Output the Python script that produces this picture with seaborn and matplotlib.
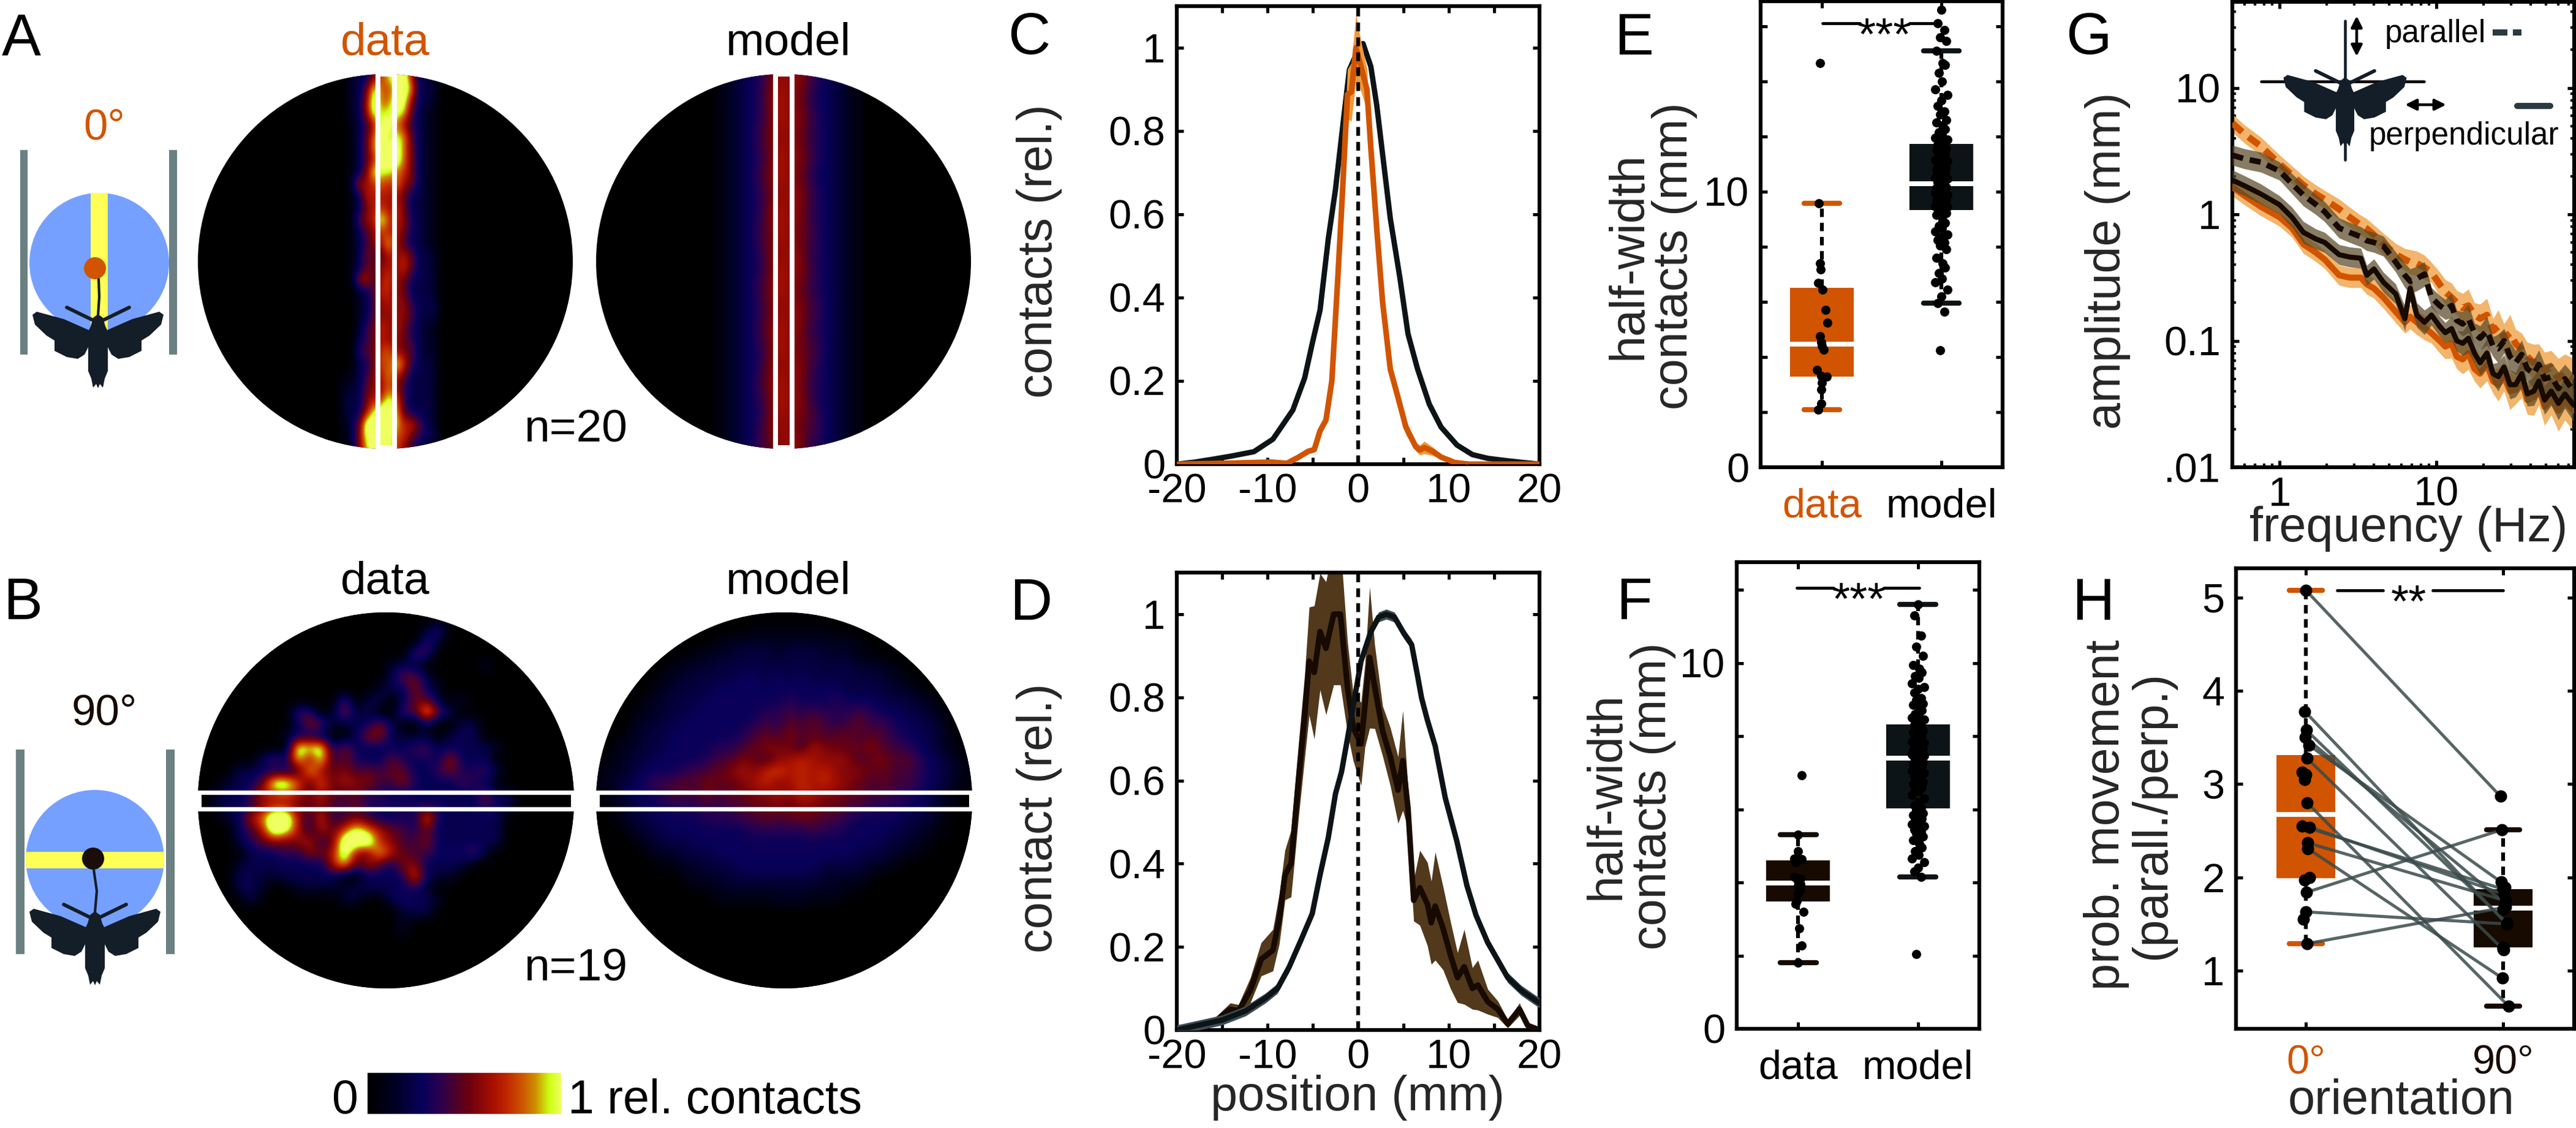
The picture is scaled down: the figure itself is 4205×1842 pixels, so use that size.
import numpy as np
import pandas as pd
import matplotlib
matplotlib.use('Agg')
import matplotlib.pyplot as plt
from matplotlib.colors import LinearSegmentedColormap
from matplotlib.patches import Circle, Polygon, Rectangle
from matplotlib.ticker import LogLocator, NullFormatter, FixedLocator, FixedFormatter
import seaborn as sns

# Valores
orange = '#D15400'
orange_light = '#F2B56B'
brown = '#170A00'
brown_band = '#52391C'
dark = '#0D1417'
model_band = '#3F4C55'

# C
c_model_x = [-20, -18, -16, -14.1, -11.5, -9.4, -7.2, -5.9, -5.06, -4.2, -3.3, -2.5, -1.6, -0.97, -0.1, 0.54, 1.4, 2.05, 2.7, 3.55, 4.6, 5.5, 6.56, 7.85, 9.15, 10.9, 12.6, 14.3, 16.5, 20]
c_model_y = [0, 0.005, 0.012, 0.019, 0.03, 0.06, 0.13, 0.207, 0.29, 0.37, 0.54, 0.66, 0.83, 0.947, 0.99, 1.01, 0.955, 0.862, 0.744, 0.59, 0.448, 0.313, 0.228, 0.144, 0.089, 0.046, 0.023, 0.014, 0.008, 0]
c_data_x = [-20, -15, -9.6, -7.85, -6.56, -5.5, -4.84, -4.2, -3.55, -2.9, -2.26, -1.83, -1.18, -0.75, -0.24, 0.32, 0.97, 1.4, 2.05, 2.7, 3.55, 4.4, 5.27, 6.35, 6.8, 7.3, 8.3, 9.15, 10.66, 12.2, 20]
c_data_y = [0, 0.002, 0.005, 0.002, 0.017, 0.031, 0.035, 0.08, 0.106, 0.2, 0.44, 0.61, 0.888, 0.894, 1.0, 0.955, 0.9, 0.76, 0.566, 0.389, 0.228, 0.16, 0.089, 0.042, 0.034, 0.04, 0.03, 0.017, 0.004, 0, 0]
c_data_err = [0, 0, 0.001, 0.001, 0.004, 0.006, 0.006, 0.008, 0.01, 0.01, 0.01, 0.01, 0.06, 0.07, 0.08, 0.06, 0.05, 0.02, 0.01, 0.01, 0.015, 0.02, 0.018, 0.01, 0.012, 0.015, 0.01, 0.005, 0.002, 0, 0]

# D
d_model_x = [-20, -15, -12.4, -10.2, -8.9, -7.6, -6.35, -5.06, -4.2, -3.3, -2.5, -1.83, -1.18, -0.54, 0.32, 1.4, 2.26, 3.1, 4, 5.06, 5.9, 6.56, 7, 7.64, 8.5, 9.6, 10.9, 12, 13, 14.3, 16.5, 18, 20]
d_model_y = [0, 0.024, 0.046, 0.077, 0.1, 0.152, 0.214, 0.28, 0.373, 0.462, 0.568, 0.621, 0.7, 0.78, 0.887, 0.958, 0.993, 1.0, 0.993, 0.953, 0.927, 0.851, 0.798, 0.745, 0.683, 0.559, 0.453, 0.347, 0.276, 0.21, 0.126, 0.095, 0.065]
d_data_x = [-20, -17.5, -15.8, -14.1, -13.2, -11.9, -10.7, -9.4, -8.7, -8.07, -7.4, -6.56, -5.9, -5.4, -4.84, -4.2, -3.55, -2.7, -1.96, -1.18, -0.54, 0.32, 0.75, 1.27, 1.83, 2.7, 3.55, 4.4, 4.93, 5.5, 6.13, 6.8, 7.64, 8.07, 8.5, 9.36, 10.2, 10.96, 11.7, 12.6, 13.2, 14.3, 15.4, 16.5, 17.8, 18.7, 20]
d_data_y = [0, 0.015, 0.02, 0.05, 0.046, 0.095, 0.17, 0.192, 0.267, 0.373, 0.4, 0.604, 0.754, 0.887, 0.86, 0.958, 0.918, 1.0, 1.0, 0.825, 0.727, 0.688, 0.78, 0.896, 0.825, 0.719, 0.657, 0.577, 0.648, 0.533, 0.312, 0.342, 0.303, 0.258, 0.298, 0.245, 0.179, 0.126, 0.152, 0.1, 0.108, 0.068, 0.05, 0.015, 0.05, 0.011, 0]
d_data_err = [0, 0.005, 0.01, 0.015, 0.015, 0.03, 0.04, 0.05, 0.06, 0.06, 0.08, 0.09, 0.1, 0.13, 0.16, 0.14, 0.16, 0.17, 0.17, 0.11, 0.08, 0.1, 0.1, 0.17, 0.1, 0.06, 0.07, 0.08, 0.12, 0.05, 0.05, 0.09, 0.1, 0.1, 0.13, 0.1, 0.08, 0.06, 0.09, 0.05, 0.06, 0.03, 0.02, 0.01, 0.015, 0.005, 0]

# E
e_data = [14.66, 9.58, 7.40, 7.17, 6.68, 6.45, 5.70, 5.23, 4.75, 4.53, 4.40, 4.26, 3.53, 3.31, 3.29, 3.25, 3.06, 2.81, 2.32, 2.09]
e_data_off = [-0.015, -0.025, -0.017, -0.012, -0.03, 0.007, 0.03, 0.044, -0.015, -0.005, 0.002, 0.017, -0.042, -0.005, 0.039, 0.007, 0.002, -0.005, -0.005, -0.03]
e_model = [16.6, 16.1, 15.85, 15.6, 15.45, 15.1, 14.65, 14.6, 14.3, 14.0, 13.7, 13.5, 13.3, 13.1, 12.9, 12.8, 12.6, 12.5, 12.4, 12.25, 12.15, 12.05, 11.95, 11.88, 11.8,
           11.7, 11.65, 11.6, 11.55, 11.5, 11.42, 11.35, 11.3, 11.22, 11.15, 11.1, 11.05, 11.0, 10.95, 10.9, 10.85, 10.8, 10.72, 10.65, 10.6, 10.55, 10.5, 10.45, 10.38, 10.32,
           10.24, 10.2, 10.15, 10.12, 10.08, 10.04, 10.0, 9.96, 9.92, 9.88, 9.84, 9.8, 9.76, 9.72, 9.68, 9.65, 9.62, 9.58, 9.54, 9.5, 9.47, 9.44, 9.41, 9.38, 9.35,
           9.3, 9.22, 9.15, 8.95, 8.85, 8.75, 8.65, 8.55, 8.45, 8.35, 8.25, 8.15, 8.05, 7.9, 7.6, 7.4, 7.25, 7.05, 6.85, 6.7, 6.45, 6.2, 5.96, 5.65, 4.25]
model_off = [0.0, -0.03, 0.025, -0.012, 0.04, -0.04, 0.012, 0.03, -0.022, 0.005, -0.05, 0.05]

# F
f_data = [6.94, 5.31, 4.86, 4.66, 4.64, 4.6, 4.55, 4.15, 4.10, 4.03, 3.95, 3.9, 3.8, 3.7, 3.5, 3.42, 3.2, 2.75, 2.27, 1.81]
f_data_off = [0.03, 0.0, 0.0, -0.03, 0.03, 0.0, -0.02, -0.03, 0.02, 0.0, 0.02, 0.0, 0.02, 0.0, -0.01, -0.02, 0.045, 0.01, 0.03, 0.0]
f_model = [11.6, 11.3, 10.75, 10.45, 10.2, 9.95, 9.85, 9.75, 9.65, 9.6, 9.45, 9.35, 9.3, 9.2, 9.05, 9.0, 8.9, 8.85, 8.75, 8.7, 8.6, 8.55, 8.5, 8.45, 8.38,
           8.3, 8.25, 8.2, 8.15, 8.1, 8.05, 8.0, 7.95, 7.9, 7.85, 7.82, 7.8, 7.75, 7.72, 7.7, 7.65, 7.62, 7.6, 7.58, 7.55, 7.52, 7.5, 7.47, 7.45, 7.42,
           7.38, 7.35, 7.3, 7.25, 7.22, 7.18, 7.15, 7.1, 7.05, 7.0, 6.95, 6.9, 6.85, 6.8, 6.75, 6.7, 6.65, 6.6, 6.55, 6.5, 6.4, 6.3, 6.2, 6.12, 6.05,
           5.98, 5.9, 5.85, 5.8, 5.75, 5.7, 5.65, 5.6, 5.55, 5.5, 5.45, 5.4, 5.35, 5.25, 5.15, 5.05, 4.95, 4.85, 4.75, 4.65, 4.55, 4.4, 4.3, 4.15, 2.05]

# G
freq = [0.5, 0.6, 0.76, 1, 1.2, 1.42, 1.7, 1.94, 2.4, 2.8, 3.3, 3.6, 4, 4.6, 5.5, 6.3, 6.8, 7.5, 8.4, 9.3, 10.5, 11.4, 12.5, 13.5, 14.7, 16, 17.5, 19, 21, 23, 24.8, 27, 29.5, 32, 35, 38, 41.8, 45, 49, 54, 60, 66, 75]
par_0 = [5.27, 4.3, 3.46, 2.5, 2.05, 1.7, 1.45, 1.31, 1.1, 0.95, 0.82, 0.77, 0.687, 0.58, 0.482, 0.44, 0.42, 0.41, 0.38, 0.348, 0.28, 0.244, 0.22, 0.2, 0.182, 0.19, 0.16, 0.15, 0.16, 0.12, 0.13, 0.105, 0.115, 0.095, 0.085, 0.075, 0.067, 0.07, 0.058, 0.062, 0.05, 0.056, 0.05]
par_90 = [2.94, 2.75, 2.59, 2.2, 1.75, 1.42, 1.2, 1.05, 0.78, 0.72, 0.665, 0.62, 0.6, 0.56, 0.42, 0.33, 0.296, 0.31, 0.337, 0.22, 0.19, 0.177, 0.19, 0.145, 0.136, 0.15, 0.115, 0.105, 0.12, 0.09, 0.0866, 0.1, 0.075, 0.067, 0.078, 0.06, 0.055, 0.065, 0.05, 0.052, 0.042, 0.05, 0.04]
perp_90 = [1.87, 1.68, 1.45, 1.19, 0.95, 0.72, 0.64, 0.6, 0.48, 0.46, 0.45, 0.33, 0.37, 0.29, 0.235, 0.15, 0.26, 0.16, 0.14, 0.16, 0.13, 0.116, 0.125, 0.1, 0.0955, 0.105, 0.08, 0.067, 0.08, 0.055, 0.052, 0.062, 0.045, 0.045, 0.055, 0.038, 0.04, 0.048, 0.034, 0.04, 0.032, 0.038, 0.031]
perp_0 = [1.65, 1.4, 1.15, 0.95, 0.78, 0.58, 0.5, 0.44, 0.33, 0.316, 0.316, 0.28, 0.26, 0.22, 0.17, 0.14, 0.155, 0.14, 0.127, 0.115, 0.1, 0.09, 0.095, 0.075, 0.0713, 0.08, 0.06, 0.055, 0.065, 0.048, 0.045, 0.052, 0.04, 0.041, 0.048, 0.034, 0.036, 0.042, 0.03, 0.035, 0.028, 0.033, 0.028]
ratio_0 = [1.18, 1.18, 1.18, 1.18, 1.18, 1.18, 1.18, 1.18, 1.2, 1.2, 1.2, 1.2, 1.2, 1.22, 1.22, 1.22, 1.25, 1.25, 1.25, 1.2, 1.25, 1.25, 1.3, 1.25, 1.3, 1.35, 1.25, 1.3, 1.35, 1.25, 1.35, 1.3, 1.4, 1.3, 1.35, 1.3, 1.4, 1.35, 1.4, 1.35, 1.45, 1.4, 1.45]
ratio_90 = [1.2, 1.2, 1.2, 1.18, 1.2, 1.22, 1.2, 1.2, 1.2, 1.2, 1.2, 1.2, 1.2, 1.2, 1.2, 1.25, 1.25, 1.25, 1.25, 1.2, 1.2, 1.2, 1.25, 1.2, 1.25, 1.3, 1.2, 1.25, 1.3, 1.2, 1.3, 1.25, 1.3, 1.25, 1.3, 1.25, 1.3, 1.3, 1.3, 1.3, 1.35, 1.3, 1.35]

# H
h_0 = [5.08, 3.78, 3.58, 3.50, 3.42, 3.28, 3.13, 3.10, 3.05, 2.80, 2.55, 2.54, 2.37, 2.31, 2.00, 1.97, 1.84, 1.63, 1.55, 1.29]
h_90 = [2.87, 1.50, 1.51, 1.72, 1.95, 1.22, 1.88, 1.89, 1.66, 0.62, 1.87, 1.82, 1.75, 0.92, 1.25, 1.24, 2.51, 1.50, 1.23, 1.68]
h_paired = [1, 1, 1, 1, 1, 1, 0, 0, 0, 1, 1, 1, 1, 1, 0, 0, 1, 1, 0, 1]
h_0_off = [0, -0.005, 0.002, -0.002, 0.014, 0.005, -0.02, 0, -0.005, 0.007, -0.018, 0.018, 0.009, 0.009, 0.018, -0.005, 0.004, 0, -0.012, 0.007]
h_90_off = [-0.014, 0.018, 0.02, 0.01, -0.01, 0.004, 0, 0.01, 0, 0.027, 0.005, 0.005, 0.012, -0.004, 0, 0, -0.007, 0.02, 0, 0.012]

# Mapas de contato, um digito hexadecimal por celula (0 a f)
a_data_rows = [
    '0002337adff83320', '000236ebaefc3320', '000238fbbfe83320', '000238fcded63210',
    '0001359efb853210', '000136bfcdc63210', '000136ceefb73210', '0001369fffb73210',
    '000137eddba73210', '000298ab9c873210', '0001399998733210', '0001379a8a733210',
    '0001689fa9843210', '0001368a99743210', '00013589d8633210', '0001376698973320',
    '0001367898a63320', '00018a59a8743320', '0000236a98733320', '0000236898853330',
    '0000236888863330', '0000257a89743210', '0000357988753220', '0000567ab8763220',
    '0000347baea53320', '00113589c9733320', '00223688b8533320', '0023379aeb533320',
    '002338dffc633320', '00136ffffd9a6320', '00127efffaa75430', '00027cffea853210',
]
a_model_rows = [
    '0123457999754321', '0123458a98644321', '0123457a99754321', '0123468998654321',
    '0123457a99754321', '0123468a98644321', '0123457999754321', '0123458a99654321',
    '0123467a98754321', '0123458999654321', '0123457a99754321', '0123468a98654321',
    '0123457999764321', '0123468a99654321', '0123457a98764321', '0123458999754321',
    '0123468a99654321', '0123457a99754321', '0123458998764321', '0123467999654321',
]
b_data_rows = [
    '', '00000000000000000002500000000000', '00000000000000000005200000000000',
    '00000000000000000065000000000000', '00000000000000002320000020000000',
    '00000000000000003663', '000000000000000233732', '00000000000060330366202',
    '0000000055027230065d63', '000000003762233730030033', '000000023320037732220333',
    '00000000ece373333355333332', '00000363d6d46433643438333', '000333334c7675656633564453',
    '002336eea5a68775574333543', '023358898686564433333333633', '023347886675564444444333533',
    '00238aff84945653343b333333', '000358fd84869da86546333333', '000346767846fef87557333333',
    '000033354768e76c865534362', '000233333338c5853773333', '000332233333003334a322',
    '00033200222223333342', '000030000000220034332', '00000000000000000233',
    '000000000000000002', '000000000000000001', '', '', '', '',
]
b_model_rows = [
    '', '00000000000001111111000000000000', '00000000001222222222221000000000',
    '00000000122233323332221100000000', '00000012223333333333332221000000',
    '00000122333344343433333322100000', '00000223334444444444433332210000',
    '00002233344444445444544433322000', '00012233444444556565556544332100',
    '00022334444445657676567564433200', '00123344444456768676776765443210',
    '01223344445567887698777866543210', '01233444456687689a98986786754321',
    '12234445667898ab9a9a888776654321', '12345667687789a89a9a987676654321',
    '12344566676778898a98877665543210', '01234455565667787887766555443210',
    '01233444455566767776654444332100', '00123344444445555565544443322100',
    '00012333444444444444444433221000', '00001223334444444444443332210000',
    '00000112233344444443333221000000', '00000001222333333332222100000000',
    '00000000112222222222211000000000', '00000000001111122211100000000000',
    '', '', '', '', '', '', '',
]

W, H = 4205, 1842
sns.set_style('ticks')
plt.rcParams['font.family'] = ['Liberation Sans', 'DejaVu Sans']
plt.rcParams.update({
    'axes.linewidth': 1.5, 'axes.edgecolor': 'black', 'text.color': 'black',
    'xtick.direction': 'in', 'ytick.direction': 'in',
    'xtick.top': True, 'ytick.right': True,
    'xtick.major.size': 2.6, 'ytick.major.size': 2.6,
    'xtick.major.width': 1.2, 'ytick.major.width': 1.2,
    'xtick.minor.size': 1.4, 'ytick.minor.size': 1.4,
    'xtick.minor.width': 1.0, 'ytick.minor.width': 1.0,
    'xtick.color': 'black', 'ytick.color': 'black',
    'xtick.labelsize': 16, 'ytick.labelsize': 16,
    'xtick.major.pad': 3.5, 'ytick.major.pad': 4.5,
})

fig = plt.figure(figsize=(W / 300, H / 300), dpi=300, facecolor='white')


def px_axes(l, r, t, b):
    return fig.add_axes([l / W, 1 - b / H, (r - l) / W, (b - t) / H])


# camada por cima de tudo, em pixels da figura
ov = fig.add_axes([0, 0, 1, 1], zorder=10)
ov.patch.set_alpha(0)
ov.axis('off')

cmap = LinearSegmentedColormap.from_list('contacts', [
    (0, '#000000'), (0.12, '#00001c'), (0.28, '#08005a'), (0.37, '#2a0050'), (0.52, '#6a0010'),
    (0.65, '#a81000'), (0.72, '#c02800'), (0.80, '#cc5500'), (0.87, '#cf9000'),
    (0.94, '#ccff10'), (1, '#f0ff60')])


def rows_to_array(rows, ncol):
    return np.array([[int(c, 16) for c in r.ljust(ncol, '0')] for r in rows], dtype=float)


def heat(rows, ncol, cx, cy, r, extent, vmax=15):
    disc = Circle((cx, cy), r, fc='black', ec='none')
    ov.add_patch(disc)
    im = ov.imshow(rows_to_array(rows, ncol), cmap=cmap, vmin=0, vmax=vmax, aspect='auto',
                   extent=extent, interpolation='bicubic', zorder=2)
    im.set_clip_path(disc)


heat(a_data_rows, 16, 629, 427, 306, (529, 729, 740, 115), vmax=13.5)
heat(a_model_rows, 16, 1279, 427, 306, (1149, 1409, 740, 115), vmax=15)
heat(b_data_rows, 32, 630, 1307, 307, (323, 937, 1614, 1000), vmax=12)
heat(b_model_rows, 32, 1280, 1307, 307, (973, 1587, 1614, 1000), vmax=14)

for x0 in [617, 1266]:
    ov.add_patch(Rectangle((x0, 121), 27, 610, fill=False, ec='white', lw=1.9, zorder=3))
for x0 in [325, 975]:
    ov.add_patch(Rectangle((x0, 1293.5), 610, 27, fill=False, ec='white', lw=1.7, zorder=3))

ov.imshow(np.linspace(0, 1, 256)[None, :], cmap=cmap, aspect='auto', extent=(600, 916, 1819, 1752), zorder=2)

moth_half = [(0, -2), (8, 4), (12, 18), (15, 24), (56, 6), (100, -6), (107, -1), (103, 15), (84, 33), (71, 41), (71, 58),
             (51, 68), (33, 71), (22, 64), (16, 52), (16, 91), (11, 103), (8, 118), (3, 112), (0, 119)]
moth_color = '#141E28'


def moth(x, y, s=1.0):
    pts = [(x + s * a, y + s * b) for a, b in moth_half] + [(x - s * a, y + s * b) for a, b in moth_half[::-1]]
    ov.add_patch(Polygon(pts, fc=moth_color, ec='none', zorder=5))
    for sg in (-1, 1):
        ov.plot([x + sg * s * 8, x + sg * s * 51], [y + s * 8, y - s * 13], color=moth_color, lw=1.4,
                solid_capstyle='round', zorder=5)


# esquemas A e B
ov.add_patch(Circle((162, 429), 114, fc='#76A0FF', ec='none', zorder=1))
strip = Rectangle((148, 315), 28, 230, fc='#FFFF55', ec='none', zorder=2)
ov.add_patch(strip)
ov.add_patch(Circle((155, 438), 18, fc=orange, ec='none', zorder=4))
ov.plot([160, 162, 161], [515, 485, 456], color=moth_color, lw=1.0, zorder=4)
moth(160, 515)
ov.add_patch(Rectangle((33, 245), 12, 334, fc='#6B8082', ec='none', zorder=1))
ov.add_patch(Rectangle((276, 245), 13, 334, fc='#6B8082', ec='none', zorder=1))

ov.add_patch(Circle((155, 1403), 113, fc='#76A0FF', ec='none', zorder=1))
band = Rectangle((42, 1391), 226, 27, fc='#FFFF55', ec='none', zorder=2)
ov.add_patch(band)
band.set_clip_path(Circle((155, 1403), 113, transform=ov.transData))
ov.add_patch(Circle((152, 1402), 18, fc='#1B0D08', ec='none', zorder=4))
ov.plot([155, 158, 153], [1490, 1455, 1420], color=moth_color, lw=1.0, zorder=4)
moth(155, 1490)
ov.add_patch(Rectangle((26, 1224), 14, 334, fc='#6B8082', ec='none', zorder=1))
ov.add_patch(Rectangle((271, 1224), 14, 334, fc='#6B8082', ec='none', zorder=1))

# textos soltos
for s, x, y in [('A', 3, 90), ('B', 5, 1011), ('C', 1645, 88), ('D', 1648, 1012),
                ('E', 2635, 89), ('F', 2638, 1011), ('G', 3372, 88), ('H', 3382, 1012)]:
    ov.text(x, y, s, fontsize=23, ha='left', va='baseline')
ov.text(629, 90, 'data', color=orange, fontsize=18, ha='center', va='baseline')
ov.text(1287, 90, 'model', fontsize=18, ha='center', va='baseline')
ov.text(629, 970, 'data', fontsize=18, ha='center', va='baseline')
ov.text(1287, 970, 'model', fontsize=18, ha='center', va='baseline')
ov.text(170, 227, '0°', color=orange, fontsize=17, ha='center', va='baseline')
ov.text(170, 1184, '90°', color=brown, fontsize=17, ha='center', va='baseline')
ov.text(856, 721, 'n=20', fontsize=18, ha='left', va='baseline')
ov.text(856, 1601, 'n=19', fontsize=18, ha='left', va='baseline')
ov.text(585, 1818, '0', fontsize=18.5, ha='right', va='baseline')
ov.text(927, 1818, '1 rel. contacts', fontsize=18.5, ha='left', va='baseline')

# legenda dentro do G
ov.plot([3828, 3828], [34, 261], color=moth_color, lw=1.1, zorder=4)
ov.plot([3691, 3957], [133, 133], color='black', lw=1.1, zorder=4)
moth(3828, 128, 0.94)
arrow = dict(arrowstyle='<|-|>', color='black', lw=1.1, mutation_scale=9, shrinkA=0, shrinkB=0)
ov.annotate('', xy=(3847, 26), xytext=(3847, 92), arrowprops=arrow, zorder=6)
ov.annotate('', xy=(3926, 171), xytext=(3993, 171), arrowprops=arrow, zorder=6)
ov.text(3893, 69, 'parallel', fontsize=12.3, ha='left', va='baseline')
ov.text(3867, 236, 'perpendicular', fontsize=12.3, ha='left', va='baseline')
ov.plot([4069, 4116], [53, 53], color='#2B3A40', lw=2.4, ls=(0, (2.4, 0.9)), zorder=6)
ov.plot([4109, 4163], [173, 173], color='#2B3A40', lw=2.4, solid_capstyle='round', zorder=6)


def ylabel_px(ax, text, x, y, size=19):
    ax.set_ylabel(text, fontsize=size, va='center', ha='center', linespacing=1.0)
    ax.yaxis.set_label_coords(x, y, transform=ov.transData)


def xlabel_px(ax, text, x, y, size=19):
    ax.set_xlabel(text, fontsize=size, va='baseline', ha='center')
    ax.xaxis.set_label_coords(x, y, transform=ov.transData)


def zero_line(ax):
    ax.axvline(0, color='black', lw=1.5, ls=(0, (2.3, 1.6)), zorder=6)


def profile_axes(ax):
    ax.set_xlim(-20, 20)
    ax.set_ylim(0, 1.1)
    ax.set_xticks(np.arange(-20, 21, 5), ['-20', '', '-10', '', '0', '', '10', '', '20'])
    ax.set_yticks([0, 0.2, 0.4, 0.6, 0.8, 1], ['0', '0.2', '0.4', '0.6', '0.8', '1'])


# C
ax_c = px_axes(1921, 2513, 10, 758)
sns.lineplot(x=c_model_x, y=c_model_y, ax=ax_c, color=dark, lw=2.1, estimator=None, sort=False)
c_y, c_e = np.array(c_data_y), np.array(c_data_err)
ax_c.fill_between(c_data_x, c_y - c_e, c_y + c_e, color='#EE9A3C', lw=0, zorder=3)
sns.lineplot(x=c_data_x, y=c_data_y, ax=ax_c, color=orange, lw=2.2, estimator=None, sort=False, zorder=4)
zero_line(ax_c)
profile_axes(ax_c)
ylabel_px(ax_c, 'contacts (rel.)', 1697, 410)

# D
ax_d = px_axes(1921, 2513, 935, 1682)
d_y, d_e = np.array(d_data_y), np.array(d_data_err)
ax_d.fill_between(d_data_x, d_y - d_e, d_y + d_e, color=brown_band, lw=0, zorder=2)
sns.lineplot(x=d_data_x, y=d_data_y, ax=ax_d, color=brown, lw=2.2, estimator=None, sort=False, zorder=3)
m_y = np.array(d_model_y)
ax_d.fill_between(d_model_x, m_y - 0.012, m_y + 0.012, color=model_band, lw=0, zorder=3)
sns.lineplot(x=d_model_x, y=d_model_y, ax=ax_d, color=dark, lw=2.1, estimator=None, sort=False, zorder=4)
zero_line(ax_d)
profile_axes(ax_d)
ylabel_px(ax_d, 'contact (rel.)', 1697, 1336)
xlabel_px(ax_d, 'position (mm)', 2216, 1813)


def box(ax, pos, vals, color, cap, width, capw):
    sns.boxplot(x=np.full(len(vals), pos), y=vals, ax=ax, orient='x', native_scale=True, width=width,
                color=color, saturation=1, showfliers=False, capwidths=capw, linewidth=0,
                boxprops=dict(edgecolor=color, linewidth=0),
                medianprops=dict(color='white', linewidth=1.9, solid_capstyle='butt'),
                whiskerprops=dict(color='black', linewidth=1.5, linestyle=(0, (2.2, 1.5))),
                capprops=dict(color=cap, linewidth=2.0, solid_capstyle='round'))


def dots(ax, x, y, size):
    sns.scatterplot(x=x, y=y, ax=ax, color='black', s=size ** 2, linewidth=0, legend=False, zorder=5)


def half_width(ax, data, data_off, model, data_col, model_col, ymax, ticks, labels):
    box(ax, 0, data, data_col, data_col, 0.533, 0.3)
    box(ax, 1, model, model_col, model_col, 0.533, 0.3)
    dots(ax, 0 + np.array(data_off), data, 3.6)
    dots(ax, 1 + np.resize(model_off, len(model)), model, 3.6)
    ax.set_xlim(-0.513, 1.513)
    ax.set_ylim(0, ymax)
    ax.set_yticks(ticks, labels)
    ax.set_xticks([0, 1], ['data', 'model'])


def sig_line(ax, segs, y, xt, stars):
    for a, b in segs:
        ax.plot([a, b], [y, y], color='black', lw=1.15, zorder=6)
    # o asterisco fica alto na fonte, por isso o deslocamento
    ax.annotate(stars, (xt, y), xytext=(0, -10.3), textcoords='offset points', fontsize=18,
                ha='center', va='baseline', zorder=6)


# E
ax_e = px_axes(2874, 3269, 2, 763)
half_width(ax_e, e_data, e_data_off, e_model, orange, dark, 16.9, np.arange(0, 17, 2),
           ['0', '', '', '', '', '10', '', '', ''])
ax_e.get_xticklabels()[0].set_color(orange)
sig_line(ax_e, [(0.007, 0.32), (0.735, 0.926)], 16.1, 0.527, '***')
ylabel_px(ax_e, 'half-width\ncontacts (mm)', 2696, 418)
ax_e.tick_params(axis='x', pad=8)

# F
ax_f = px_axes(2835, 3231, 918, 1680)
half_width(ax_f, f_data, f_data_off, f_model, brown, dark, 12.76, np.arange(0, 13, 2),
           ['0', '', '', '', '', '10', ''])
sig_line(ax_f, [(-0.012, 0.294), (0.715, 1.012)], 12.06, 0.51, '***')
ylabel_px(ax_f, 'half-width\ncontacts (mm)', 2661, 1300)
ax_f.tick_params(axis='x', pad=8)

# G
ax_g = px_axes(3644, 4202, 3, 763)
ax_g.set(xscale='log', yscale='log')
f_arr = np.array(freq)
r0, r90 = np.array(ratio_0), np.array(ratio_90)
for curve in (par_0, perp_0):
    ax_g.fill_between(f_arr, np.array(curve) / r0, np.array(curve) * r0, color=orange_light, lw=0, zorder=2)
sns.lineplot(x=freq, y=par_0, ax=ax_g, color=orange, lw=2.6, ls=(0, (2.0, 1.2)), estimator=None, zorder=3)
sns.lineplot(x=freq, y=perp_0, ax=ax_g, color=orange, lw=2.4, estimator=None, zorder=3)
for curve in (par_90, perp_90):
    ax_g.fill_between(f_arr, np.array(curve) / r90, np.array(curve) * r90, color='#5A4A28', alpha=0.72, lw=0, zorder=4)
sns.lineplot(x=freq, y=par_90, ax=ax_g, color=brown, lw=2.2, ls=(0, (2.0, 1.2)), estimator=None, zorder=5)
sns.lineplot(x=freq, y=perp_90, ax=ax_g, color=brown, lw=2.0, estimator=None, zorder=5)
ax_g.set_xlim(0.5, 75.6)
ax_g.set_ylim(0.01, 48)
ax_g.xaxis.set_major_locator(FixedLocator([1, 10]))
ax_g.xaxis.set_major_formatter(FixedFormatter(['1', '10']))
ax_g.yaxis.set_major_locator(FixedLocator([0.01, 0.1, 1, 10]))
ax_g.yaxis.set_major_formatter(FixedFormatter(['.01', '0.1', '1', '10']))
for axis in (ax_g.xaxis, ax_g.yaxis):
    axis.set_minor_locator(LogLocator(base=10, subs=range(2, 10), numticks=20))
    axis.set_minor_formatter(NullFormatter())
ylabel_px(ax_g, 'amplitude (mm)', 3440, 426)
xlabel_px(ax_g, 'frequency (Hz)', 3932, 884)

# H
ax_h = px_axes(3650, 4202, 928, 1680)
box(ax_h, 0, h_0, orange, orange, 0.30, 0.17)
box(ax_h, 1, h_90, brown, brown, 0.30, 0.17)
x0 = 0 + np.array(h_0_off)
x1 = 1 + np.array(h_90_off)
links = pd.DataFrame({
    'id': [i for i, p in enumerate(h_paired) if p] * 2,
    'x': [x0[i] for i, p in enumerate(h_paired) if p] + [x1[i] for i, p in enumerate(h_paired) if p],
    'y': [h_0[i] for i, p in enumerate(h_paired) if p] + [h_90[i] for i, p in enumerate(h_paired) if p],
})
sns.lineplot(data=links, x='x', y='y', units='id', estimator=None, ax=ax_h, color='#3A4A4A', lw=1.2, alpha=0.85, zorder=4)
dots(ax_h, x0, h_0, 4.8)
dots(ax_h, x1, h_90, 4.8)
ax_h.set_xlim(-0.354, 1.36)
ax_h.set_ylim(0.376, 5.315)
ax_h.set_yticks([1, 2, 3, 4, 5], ['1', '2', '3', '4', '5'])
ax_h.set_xticks([0, 1], ['0°', '90°'])
ax_h.get_xticklabels()[0].set_color(orange)
ax_h.get_xticklabels()[1].set_color(brown)
ax_h.tick_params(axis='x', pad=6)
sig_line(ax_h, [(0.158, 0.392), (0.644, 1.0)], 5.08, 0.52, '**')
ylabel_px(ax_h, 'prob. movement\n(parall./perp.)', 3476, 1331)
xlabel_px(ax_h, 'orientation', 3920, 1819)

ov.set_xlim(0, W)
ov.set_ylim(H, 0)

fig.savefig('out.png', dpi=300)
